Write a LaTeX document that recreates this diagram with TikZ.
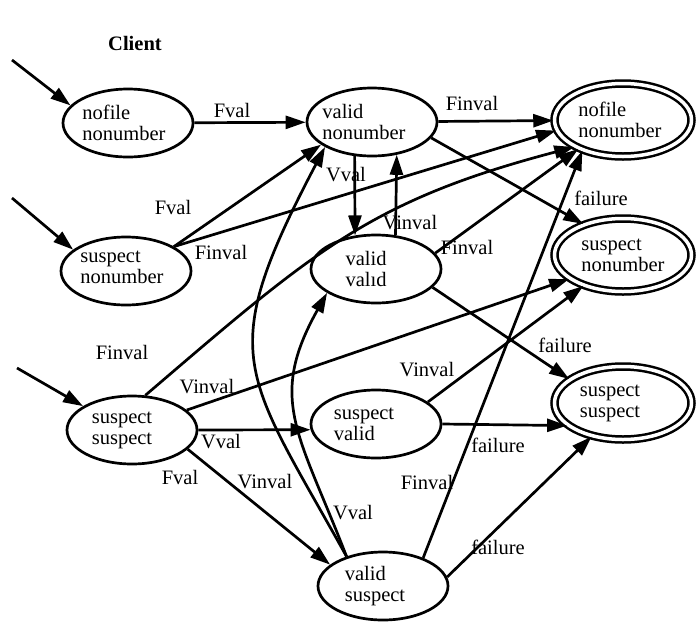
\documentclass[tikz,border=0pt]{standalone}
\usepackage{fontspec}
\setmainfont{Liberation Serif}
\usetikzlibrary{arrows.meta,shapes.geometric}
\begin{document}
\begin{tikzpicture}[x=1pt,y=-1pt,
  every node/.style={font=\fontsize{20.5}{21}\selectfont},
  st/.style={ellipse,draw,line width=2.7pt,minimum width=130pt,minimum height=68pt,inner sep=0pt},
  fin/.style={ellipse,draw,double,double distance=3.5pt,line width=2.5pt,minimum width=137pt,minimum height=73pt,inner sep=0pt},
  nt/.style={align=left,inner sep=0pt},
  lab/.style={inner sep=0pt},
  arr/.style={line width=2.7pt,-{Triangle[length=20pt,width=13pt]}},
]
\useasboundingbox (0,0) rectangle (697,625);

\node[font=\fontsize{20.5}{21}\selectfont\bfseries] (client) at (135,43) {Client};

% states
\node[st,label={[nt,xshift=-4pt]center:{nofile\\nonumber}}] (A) at (128,123) {};
\node[st,label={[nt,xshift=-8pt]center:{valid\\nonumber}}] (B) at (372,122) {};
\node[fin,label={[nt,xshift=-3pt]center:{nofile\\nonumber}}] (C) at (623,120) {};
\node[st,label={[nt,xshift=-4pt,yshift=4pt]center:{suspect\\nonumber}}] (D) at (126,271) {};
\node[st,label={[nt,xshift=-10pt]center:{valid\\valıd}}] (E) at (376,269) {};
\node[fin,label={[nt]center:{suspect\\nonumber}}] (F) at (623,255) {};
\node[st,label={[nt,xshift=-10pt]center:{suspect\\suspect}}] (G) at (132,430) {};
\node[st,label={[nt,xshift=-12pt]center:{suspect\\valid}}] (H) at (376,424) {};
\node[fin,label={[nt,xshift=-13pt]center:{suspect\\suspect}}] (I) at (623,403) {};
\node[st,label={[nt,xshift=-8pt]center:{valid\\suspect}}] (J) at (383,586) {};

% initial arrows
\coordinate (i1) at (12,60);
\coordinate (i2) at (12,198);
\coordinate (i3) at (17,368);
\draw[arr] (i1) -- (A.163);
\draw[arr] (i2) -- (D.158);
\draw[arr] (i3) -- (G.154);

% transitions
\draw[arr] (A) -- (B);
\draw[arr] (B) -- (C);
\draw[arr] (D.27) -- (B.204);
\draw[arr] (D.27) -- (C.189);
\draw[arr] (G.69) .. controls (314,251) and (369,201) .. (C.209);
\draw[arr] (B.345) -- (F.142);
\draw[arr] (B.243) -- (E.122);
\draw[arr] (E.60) -- (B.307);
\draw[arr] (E.15) -- (C.213);
\draw[arr] (E.342) -- (I.156);
\draw[arr] (G.20) -- (F.204);
\draw[arr] (H.23) -- (F.218);
\draw[arr] (H.east) -- (I.202);
\draw[arr] (G.east) -- (H.185);
\draw[arr] (G.341) -- (J.158);
\draw[arr] (J.8) -- (I.227);
\draw[arr] (J.35) -- (C.217);
\draw[arr] (J.141) .. controls (243,370) and (214,358) .. (B.208);
\draw[arr] (J.141) .. controls (299,433) and (267,400) .. (E.206);

% labels
\node[lab] (l1) at (232,110) {Fval};
\node[lab] (l2) at (472,103) {Finval};
\node[lab] (l3) at (173,207) {Fval};
\node[lab] (l4) at (221,252) {Finval};
\node[lab] (l5) at (346,175) {Vval};
\node[lab] (l6) at (410,223) {Vinval};
\node[lab] (l7) at (601,198) {failure};
\node[lab] (l8) at (467,247) {Finval};
\node[lab] (l9) at (122,352) {Finval};
\node[lab] (l10) at (207,387) {Vinval};
\node[lab] (l11) at (427,370) {Vinval};
\node[lab] (l12) at (565,345) {failure};
\node[lab] (l13) at (221,442) {Vval};
\node[lab] (l14) at (498,445) {failure};
\node[lab] (l15) at (180,477) {Fval};
\node[lab] (l16) at (265,482) {Vinval};
\node[lab] (l17) at (353,513) {Vval};
\node[lab] (l18) at (427,482) {Finval};
\node[lab] (l19) at (498,547) {failure};
\end{tikzpicture}
\end{document}
